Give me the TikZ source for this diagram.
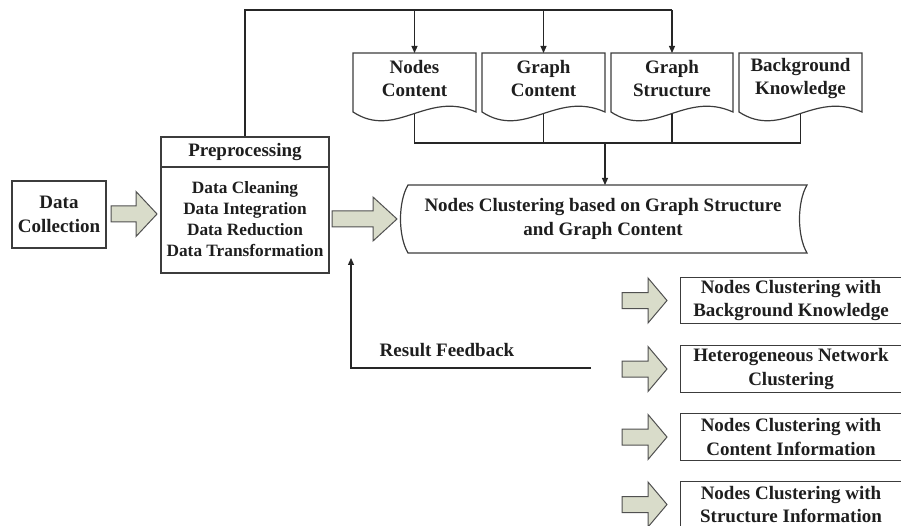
\documentclass[tikz,border=0pt]{standalone}
\usepackage{fontspec}
\setmainfont{Liberation Serif}
\usetikzlibrary{arrows.meta}
\definecolor{linec}{HTML}{3C3C3C}
\definecolor{arrowfill}{HTML}{D9DCCA}
\definecolor{arrowline}{HTML}{505050}
\definecolor{txt}{HTML}{1E1E1E}
\newcommand{\fatarr}[6]{%
  \draw[fatstyle] (#1,{#4-#5}) -- (#2,{#4-#5}) -- (#2,{#4-#6}) -- (#3,#4)
    -- (#2,{#4+#6}) -- (#2,{#4+#5}) -- (#1,{#4+#5}) -- cycle;}
\newcommand{\docnode}[4]{%
  \draw[shapeline] (#2,53) -- (#3,53) -- (#3,112)
    .. controls ({#2+0.6*(#3-#2)},90) and ({#2+0.35*(#3-#2)},140) .. (#2,112) -- cycle;
  \node (#1) at ({(#2+#3)/2},78.5) {#4};
  \coordinate (#1-t) at ({(#2+#3)/2},53);
  \coordinate (#1-b) at ({(#2+#3)/2},114.25);}
\begin{document}
\begin{tikzpicture}[x=1pt,y=-1pt,
  every node/.style={text=txt, font=\bfseries\fontsize{19}{23.5}\selectfont, align=center, inner sep=0pt},
  shapeline/.style={draw=linec, line width=1.2pt},
  plainbox/.style={shapeline, rectangle},
  conn/.style={draw=black!85, line width=1.2pt},
  tip/.style={-{Triangle[length=7pt,width=6pt]}},
  fatstyle/.style={draw=arrowline, fill=arrowfill, line width=1pt, line join=miter}]
\useasboundingbox (0,0) rectangle (901,526);

% Data collection
\node[plainbox, minimum width=94pt, minimum height=67pt] (dc) at (59,214.5) {Data\\Collection};

% Preprocessing
\node[plainbox, minimum width=168pt, minimum height=136pt] (pre) at (245,205) {};
\node (pret) at (245,152) {Preprocessing};
\draw[shapeline] (pre.west |- 0,167) -- (pre.east |- 0,167);
\node[font=\bfseries\fontsize{17.3}{21}\selectfont] (preb) at (245,219.5)
  {Data Cleaning\\Data Integration\\Data Reduction\\Data Transformation};

% fat arrows
\fatarr{111}{136}{157}{214}{8}{22.5}
\fatarr{332}{373}{397}{219}{8}{22}

% documents
\docnode{nc}{353}{476}{Nodes\\Content}
\docnode{gc}{482}{605}{Graph\\Content}
\docnode{gs}{611}{733}{Graph\\Structure}
\docnode{bk}{739}{862}{Background\\Knowledge}

% clustering (stored data shape)
\draw[shapeline] (408,185) -- (807,185) .. controls (797,202) and (797,236) .. (807,253)
  -- (408,253) .. controls (398,236) and (398,202) .. (408,185) -- cycle;
\node[font=\bfseries\fontsize{19}{24}\selectfont] (clu) at (603,219)
  {Nodes Clustering based on Graph Structure\\and Graph Content};
\coordinate (clu-t) at (605,185);

% top feed lines
\draw[conn] (pre.north) -- (pre.north |- 0,10) -- (gs-t |- 0,10);
\draw[conn,tip] (nc-t |- 0,10) -- (nc-t);
\draw[conn,tip] (gc-t |- 0,10) -- (gc-t);
\draw[conn,tip] (gs-t |- 0,10) -- (gs-t);

% bottom collection lines
\draw[conn] (nc-b) -- (nc-b |- 0,143) -- (bk-b |- 0,143) -- (bk-b);
\draw[conn] (gc-b) -- (gc-b |- 0,143);
\draw[conn] (gs-b) -- (gs-b |- 0,143);
\coordinate (join) at (605,143);
\draw[conn,tip] (join) -- (clu-t);

% result feedback
\coordinate (fbs) at (591,368);
\coordinate (fbe) at (351,258);
\draw[conn,tip] (fbs) -- (fbe |- fbs) -- (fbe);
\node (fbl) at (447,350) {Result Feedback};

% right boxes
\node[minimum width=220pt, minimum height=45pt] (r1) at (791,300.5) {Nodes Clustering with\\Background Knowledge};
\node[minimum width=220pt, minimum height=46pt] (r2) at (791,369) {Heterogeneous Network\\Clustering};
\node[minimum width=220pt, minimum height=46pt] (r3) at (791,437) {Nodes Clustering with\\Content Information};
\node[minimum width=220pt, minimum height=45pt] (r4) at (791,504.5) {Nodes Clustering with\\Structure Information};
\draw[shapeline] (r1.north east) -- (r1.north west) -- (r1.south west) -- (r1.south east);
\draw[shapeline] (r2.north east) -- (r2.north west) -- (r2.south west) -- (r2.south east);
\draw[shapeline] (r3.north east) -- (r3.north west) -- (r3.south west) -- (r3.south east);
\draw[shapeline] (r4.north east) -- (r4.north west) -- (r4.south west);

\fatarr{622}{648}{667}{300.5}{8}{22.5}
\fatarr{622}{648}{667}{369}{8}{22.5}
\fatarr{622}{648}{667}{437}{8}{22.5}
\fatarr{622}{648}{667}{504.5}{8}{22.5}
\end{tikzpicture}
\end{document}
